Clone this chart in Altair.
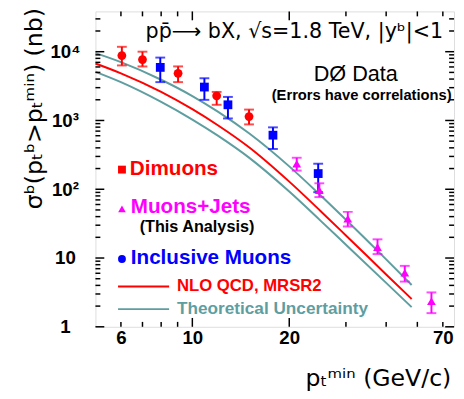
import altair as alt
import pandas as pd

# ---------------- data ----------------
dimuon_pt = [6.04, 7.0, 9.03, 11.9, 15.0]
dimuon_sigma = [8770, 7690, 4850, 2280, 1140]
dimuon_hi = [11780, 10000, 6110, 2600, 1440]
dimuon_lo = [6310, 6100, 3610, 1690, 877]

incl_pt = [7.95, 10.9, 12.9, 17.8, 24.6]
incl_sigma = [5910, 3060, 1690, 611, 169]
incl_hi = [8210, 4110, 2200, 794, 235]
incl_lo = [3610, 1995, 1070, 385, 90.6]

mj_pt = [21.1, 24.8, 30.4, 37.6, 45.7, 55.3]
mj_sigma = [235, 96.8, 37.3, 14.4, 6.1, 2.35]
mj_hi = [287, 122, 46.9, 18.7, 7.69, 3.16]
mj_lo = [187, 76.9, 28.7, 11.4, 4.54, 1.58]

curve_pt = [5, 6, 8, 10, 12, 15, 20, 25, 30, 40, 48]
nlo_sigma = [6745, 4853, 2612, 1462, 853, 408, 129, 48.4, 21.3, 5.77, 2.54]
upper_sigma = [9528, 7047, 3908, 2265, 1346, 652, 215, 81.7, 36.0, 9.57, 4.06]
lower_sigma = [5093, 3606, 1862, 1030, 601, 288, 92.5, 35.0, 15.6, 4.35, 1.93]

series_names = ["Dimuons", "Inclusive Muons", "Muons+Jets"]
series_colors = ["#ff0000", "#0000ff", "#ff00ff"]
series_shapes = ["circle", "square", "triangle-up"]
curve_names = ["Upper", "NLO", "Lower"]
curve_colors = ["#5f9ea0", "#ff0000", "#5f9ea0"]

x_tick_values = [6, 10, 20, 60]
x_tick_labels = ["6", "10", "20", "70"]
x_minor = [6, 7, 8, 9, 30, 40, 50, 60]
x_major = [10, 20]
y_tick_values = [1, 10, 100, 1000, 10000]
y_tick_labels = ["1", "10", "10²", "10³", "10⁴"]
y_major = [1, 10, 100, 1000, 10000]
y_minor = [m * d for d in [1, 10, 100, 1000] for m in range(2, 10)] + [20000, 30000]

title_text = "pp̄⟶ bX,  √s=1.8 TeV,  |yᵇ|<1"
d0_text = "DØ Data"
err_text = "(Errors have correlations)"
legend_texts = ["Dimuons", "Muons+Jets", "(This Analysis)", "Inclusive Muons",
                "NLO QCD, MRSR2", "Theoretical Uncertainty"]
y_title = "σᵇ(pₜᵇ>pₜᵐⁱⁿ) (nb)"
x_title = "pₜᵐⁱⁿ (GeV/c)"

# ---------------- tables ----------------
pts = pd.DataFrame({
    "pt": dimuon_pt + incl_pt + mj_pt,
    "sigma": dimuon_sigma + incl_sigma + mj_sigma,
    "hi": dimuon_hi + incl_hi + mj_hi,
    "lo": dimuon_lo + incl_lo + mj_lo,
    "series": [series_names[0]] * len(dimuon_pt) + [series_names[1]] * len(incl_pt)
              + [series_names[2]] * len(mj_pt),
})
curves = pd.DataFrame({
    "pt": curve_pt * 3,
    "sigma": upper_sigma + nlo_sigma + lower_sigma,
    "curve": [curve_names[0]] * len(curve_pt) + [curve_names[1]] * len(curve_pt)
             + [curve_names[2]] * len(curve_pt),
})

W, H = 365, 321
xs = alt.Scale(type="log", domain=[5, 65], nice=False)
ys = alt.Scale(type="log", domain=[1, 38500], nice=False)

x_expr = " : ".join([f"datum.value == {v} ? '{l}'" for v, l in zip(x_tick_values, x_tick_labels)]) + " : ''"
y_expr = " : ".join([f"datum.value == {v} ? '{l}'" for v, l in zip(y_tick_values, y_tick_labels)]) + " : ''"

X = alt.X("pt:Q", scale=xs, axis=alt.Axis(values=x_tick_values, labelExpr=x_expr, ticks=False,
          tickSize=0, domain=False, grid=False, title=None, labelFont="Liberation Sans",
          labelFontWeight="bold", labelFontSize=19, labelPadding=2, labelColor="black",
          labelFlush=False, labelBaseline="top"))
Y_axis = alt.Axis(values=y_tick_values, labelExpr=y_expr, ticks=False, tickSize=0, domain=False,
                  grid=False, title=None, labelFont="Liberation Sans", labelFontWeight="bold",
                  labelFontSize=19, labelPadding=31, labelColor="black", labelAlign="center",
                  labelFlush=False)

pt_colors = dict(zip(series_names, series_colors))
pt_shapes = dict(zip(series_names, series_shapes))
cv_colors = dict(zip(curve_names, curve_colors))

layers = []
for c in curve_names:
    layers.append(alt.Chart(curves[curves.curve == c]).mark_line(
        strokeWidth=2, interpolate="monotone", color=cv_colors[c]).encode(
        x=X, y=alt.Y("sigma:Q", scale=ys, axis=Y_axis)))

for s in series_names:
    d = pts[pts.series == s]
    col = pt_colors[s]
    layers.append(alt.Chart(d).mark_rule(strokeWidth=2, color=col).encode(
        x=alt.X("pt:Q", scale=xs), y=alt.Y("lo:Q", scale=ys), y2="hi:Q"))
    for f in ["hi", "lo"]:
        layers.append(alt.Chart(d).mark_tick(orient="horizontal", size=10, thickness=2, color=col).encode(
            x=alt.X("pt:Q", scale=xs), y=alt.Y(f"{f}:Q", scale=ys)))
    layers.append(alt.Chart(d).mark_point(filled=True, size=80, opacity=1, color=col,
                                          shape=pt_shapes[s]).encode(
        x=alt.X("pt:Q", scale=xs), y=alt.Y("sigma:Q", scale=ys)))

# frame ticks (inward, IDL style)
ymaj = pd.DataFrame({"v": y_major})
ymin = pd.DataFrame({"v": y_minor})
xmaj = pd.DataFrame({"v": x_major})
xmin = pd.DataFrame({"v": x_minor})
for df, ln in [(ymaj, 9), (ymin, 5)]:
    for x0, x1 in [(0, ln), (W - ln, W)]:
        layers.append(alt.Chart(df).mark_rule(color="black", strokeWidth=1.5).encode(
            y=alt.Y("v:Q", scale=ys), x=alt.value(x0), x2=alt.value(x1)))
for df, ln in [(xmaj, 9), (xmin, 5)]:
    for y0, y1 in [(0, ln), (H - ln, H)]:
        layers.append(alt.Chart(df).mark_rule(color="black", strokeWidth=1.5).encode(
            x=alt.X("v:Q", scale=xs), y=alt.value(y0), y2=alt.value(y1)))

one = alt.Data(values=[{}])


def label(text, x, y, size, color="black", weight="normal", font="Liberation Sans",
          align="left", angle=0):
    return alt.Chart(one).mark_text(text=text, fontSize=size, color=color, fontWeight=weight,
                                    font=font, align=align, baseline="middle", angle=angle).encode(
        x=alt.value(x), y=alt.value(y))


layers += [
    alt.Chart(one).mark_point(shape="square", filled=True, size=64, color="#ff0000", opacity=1).encode(
        x=alt.value(27), y=alt.value(161)),
    alt.Chart(one).mark_point(shape="triangle-up", filled=True, size=60, color="#ff00ff", opacity=1).encode(
        x=alt.value(27), y=alt.value(201)),
    alt.Chart(one).mark_point(shape="circle", filled=True, size=64, color="#0000ff", opacity=1).encode(
        x=alt.value(27), y=alt.value(252)),
    alt.Chart(one).mark_rule(color="#ff0000", strokeWidth=2).encode(
        x=alt.value(23), x2=alt.value(75), y=alt.value(280)),
    alt.Chart(one).mark_rule(color="#5f9ea0", strokeWidth=2).encode(
        x=alt.value(23), x2=alt.value(75), y=alt.value(303)),
    label(title_text, 51, 21, 21, font="DejaVu Sans"),
    label(d0_text, 265, 64, 22, align="center"),
    label(err_text, 271, 85, 15, weight="bold", align="center"),
    label(legend_texts[0], 35, 160, 21, color="#ff0000", weight="bold"),
    label(legend_texts[1], 36, 199, 21, color="#ff00ff", weight="bold"),
    label(legend_texts[2], 45, 220, 16.5, weight="bold"),
    label(legend_texts[3], 36, 251, 21, color="#0000ff", weight="bold"),
    label(legend_texts[4], 83, 280, 17, color="#ff0000", weight="bold"),
    label(legend_texts[5], 83, 303, 17.5, color="#5f9ea0", weight="bold"),
    label(y_title, -61, 99, 24, font="DejaVu Sans", align="center", angle=270),
    label(x_title, 288, 374, 24, font="DejaVu Sans", align="center"),
]

chart = alt.layer(*layers).properties(
    width=W, height=H,
    autosize=alt.AutoSizeParams(type="none"),
    padding={"left": 89, "top": 0, "right": 2, "bottom": 70},
).configure_view(stroke="black", strokeWidth=2).configure(background="white")

chart.save("out.html", embed_options={"renderer": "svg", "actions": False})
